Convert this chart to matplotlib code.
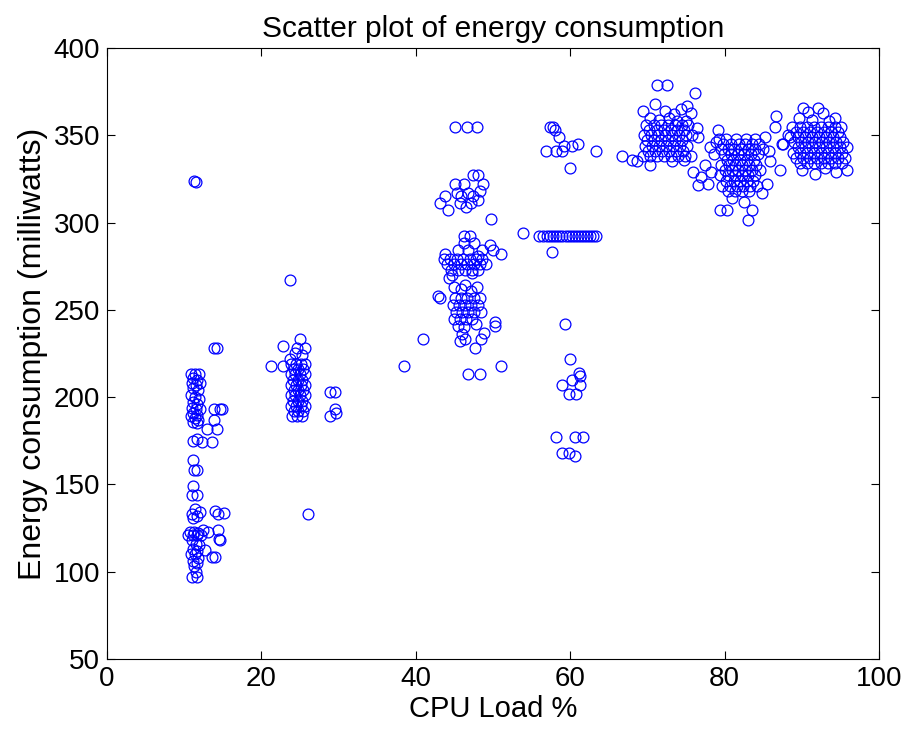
import matplotlib
matplotlib.use("Agg")
import matplotlib.pyplot as plt

# (cpu load %, energy mW), one list per group of runs
load_10 = [(11.3, 324), (11.5, 323.5),
           (10.9, 213), (11.4, 213), (11.9, 213), (11.2, 211), (11.7, 210), (11.0, 208), (11.5, 207),
           (12.0, 208), (11.2, 205), (11.8, 204), (10.9, 201), (11.4, 200), (11.9, 199), (11.1, 197),
           (11.6, 196), (11.0, 194), (11.5, 193), (12.0, 193), (11.2, 191), (11.7, 190), (10.9, 189),
           (11.4, 188), (11.8, 187), (11.1, 186), (11.6, 185), (11.2, 175), (11.7, 176), (11.2, 164),
           (11.3, 158), (11.6, 158), (11.2, 149), (11.0, 144), (11.6, 144), (11.4, 136), (11.0, 133),
           (11.6, 132), (12.1, 134), (11.2, 131), (10.8, 123), (11.3, 123), (11.8, 122), (10.5, 121),
           (11.1, 121), (11.6, 121), (12.2, 121), (11.0, 118), (11.5, 116), (11.9, 115), (11.2, 113),
           (11.7, 112), (10.9, 110), (11.4, 110), (11.8, 108), (11.1, 106), (11.6, 105), (11.3, 103),
           (11.5, 100), (11.0, 97), (11.6, 97),
           (12.3, 174.5), (13.6, 174.5), (13.9, 228), (14.3, 228), (13.8, 193), (14.6, 193), (14.9, 193),
           (13.8, 187), (12.9, 182), (14.2, 182), (12.4, 124), (13.1, 123), (14.0, 134.5), (14.4, 133),
           (15.1, 133.5), (14.4, 124), (14.5, 119), (14.7, 118), (13.6, 108.6), (14.0, 108.6), (12.7, 112.4)]

load_25 = [(23.7, 267), (25.0, 233), (22.8, 229), (24.6, 228), (25.6, 228), (23.7, 222), (21.3, 218),
           (22.8, 218), (24.3, 225), (25.2, 224),
           (23.9, 219), (24.5, 219), (25.1, 219), (25.7, 219), (24.2, 216), (24.8, 216), (25.4, 216),
           (23.8, 213), (24.4, 213), (25.0, 213), (25.6, 213), (24.1, 210), (24.7, 210), (25.3, 210),
           (23.9, 207), (24.5, 207), (25.1, 207), (25.7, 207), (24.2, 204), (24.8, 204), (25.4, 204),
           (23.8, 201), (24.4, 201), (25.0, 201), (25.6, 201), (24.1, 198), (24.7, 198), (25.3, 198),
           (23.9, 195), (24.5, 195), (25.1, 195), (25.7, 195), (24.2, 192), (24.8, 192), (25.4, 192),
           (24.0, 189), (24.6, 189), (25.2, 189),
           (28.9, 203), (29.5, 203), (29.5, 193), (29.7, 191), (28.9, 189), (26.0, 133)]

load_45 = [(45.1, 355), (46.6, 355), (47.9, 355),
           (47.4, 327), (48.1, 327), (45.1, 322), (46.2, 322), (48.7, 322), (43.8, 315), (45.3, 317),
           (46.8, 317), (48.3, 318), (43.1, 311), (44.2, 307), (45.7, 311), (47.2, 311), (45.9, 315),
           (47.4, 315), (46.5, 309), (48.0, 313), (49.8, 302),
           (46.2, 292), (47.0, 292), (46.2, 288), (47.6, 288), (49.6, 287), (51.1, 282), (43.8, 282),
           (45.5, 284), (46.8, 284), (48.6, 284), (50.0, 284),
           (43.6, 279), (44.4, 279), (45.3, 279), (46.1, 279), (47.0, 279), (47.8, 279), (48.6, 279),
           (44.0, 276), (44.9, 276), (45.8, 276), (46.6, 276), (47.5, 276), (48.3, 276), (49.1, 276),
           (44.6, 273), (45.5, 273), (46.4, 273), (47.3, 273), (48.1, 273),
           (44.7, 270), (44.3, 268), (48.0, 281), (47.3, 271),
           (44.9, 263), (42.9, 258), (46.4, 264), (47.9, 263), (45.9, 262), (47.2, 261),
           (45.1, 257), (45.9, 257), (46.7, 257), (47.5, 257), (48.3, 257),
           (44.8, 253), (45.6, 253), (46.4, 253), (47.2, 253), (48.0, 253),
           (45.2, 249), (46.0, 249), (46.8, 249), (47.6, 249), (48.4, 249),
           (44.9, 245), (45.7, 245), (46.5, 245), (47.3, 245),
           (45.5, 241), (46.3, 240), (47.8, 242), (48.8, 237), (50.3, 243), (50.3, 241), (41.0, 233),
           (45.7, 232), (46.4, 233), (48.5, 233), (46.0, 236), (47.7, 228), (51.1, 218), (46.8, 213),
           (48.3, 213), (43.2, 257), (38.5, 218)]

load_60 = [(57.4, 355), (57.8, 355), (58.0, 353), (58.6, 349), (59.2, 344), (60.3, 344), (56.9, 341),
           (58.2, 341), (58.9, 341), (61.0, 345), (63.3, 341), (60.0, 331),
           (53.9, 294), (56.0, 292), (56.5, 292), (57.0, 292), (57.4, 292), (57.8, 292), (58.2, 292),
           (58.6, 292), (59.0, 292), (59.4, 292), (59.8, 292), (60.2, 292), (60.6, 292), (61.0, 292),
           (61.4, 292), (61.8, 292), (62.2, 292), (62.6, 292), (63.0, 292), (63.4, 292), (57.6, 283),
           (59.3, 242), (60.0, 222), (61.1, 214), (61.3, 212), (60.2, 210), (58.9, 207), (61.3, 207),
           (59.8, 202), (60.8, 202), (58.2, 177), (60.6, 177), (61.7, 177), (58.9, 168), (59.8, 168),
           (60.6, 166)]

load_72 = [(71.2, 379), (72.5, 379), (76.2, 374), (75.1, 367), (75.7, 363), (69.5, 364), (71.0, 368),
           (72.3, 364), (73.5, 362), (74.4, 365), (70.3, 360), (71.5, 359), (72.8, 360), (73.9, 358),
           (75.0, 358),
           (69.8, 356), (70.9, 356), (71.8, 356), (72.7, 356), (73.6, 356), (74.5, 356), (75.3, 356),
           (70.2, 353), (71.2, 353), (72.1, 353), (73.0, 353), (73.9, 353), (74.8, 353),
           (69.6, 350), (70.5, 350), (71.4, 350), (72.3, 350), (73.2, 350), (74.1, 350), (75.0, 350),
           (75.8, 350),
           (70.0, 347), (70.9, 347), (71.8, 347), (72.7, 347), (73.6, 347), (74.5, 347),
           (69.7, 344), (70.6, 344), (71.5, 344), (72.4, 344), (73.3, 344), (74.2, 344), (75.1, 344),
           (70.1, 341), (71.0, 341), (71.9, 341), (72.8, 341), (73.7, 341), (74.6, 341),
           (69.5, 338), (70.4, 338), (71.3, 338), (72.2, 338), (73.1, 338), (74.0, 338), (74.9, 338),
           (75.6, 338),
           (68.6, 335), (70.3, 333), (66.7, 338), (68.0, 336), (73.2, 335), (74.8, 336), (76.6, 349),
           (76.4, 354),
           (75.9, 329), (77.0, 326), (76.6, 321.5), (77.5, 333), (78.1, 343), (79.2, 353)]

load_82 = [(79.4, 307), (80.3, 307), (83.5, 307), (83.0, 301.4),
           (79.3, 348), (80.2, 348), (81.5, 348), (82.8, 348), (83.9, 348),
           (79.8, 345), (80.8, 345), (81.9, 345), (82.6, 345), (83.5, 345), (84.4, 345),
           (79.5, 342), (80.4, 342), (81.2, 342), (82.1, 342), (83.0, 342), (84.0, 342), (85.0, 342),
           (79.9, 339), (80.9, 339), (81.7, 339), (82.5, 339), (83.4, 339), (84.3, 339),
           (80.3, 336), (81.1, 336), (82.0, 336), (82.9, 336), (83.8, 336),
           (79.6, 333), (80.6, 333), (81.4, 333), (82.3, 333), (83.2, 333), (84.1, 333),
           (80.0, 330), (81.0, 330), (81.8, 330), (82.7, 330), (83.6, 330), (84.6, 330),
           (79.4, 327), (80.5, 327), (81.3, 327), (82.2, 327), (83.1, 327), (84.0, 327),
           (80.2, 324), (81.2, 324), (82.0, 324), (82.9, 324), (83.7, 324),
           (79.7, 321), (80.7, 321), (81.6, 321), (82.4, 321), (83.3, 321), (84.2, 321),
           (80.4, 318), (81.4, 318), (82.3, 318), (83.2, 318),
           (86.7, 361), (86.5, 355), (87.6, 345), (87.2, 330), (85.9, 335), (85.5, 322), (84.8, 317),
           (81.0, 314), (82.5, 312), (85.2, 349), (85.8, 341), (78.6, 339), (78.2, 329), (77.8, 322),
           (78.9, 346)]

load_92 = [(90.2, 365.5), (90.8, 363.5), (92.1, 365.5), (92.7, 363), (94.3, 360), (93.5, 358),
           (91.3, 359), (89.6, 360),
           (88.8, 355), (89.8, 355), (90.7, 355), (91.6, 355), (92.5, 355), (93.4, 355), (94.3, 355),
           (95.1, 355),
           (89.3, 352), (90.2, 352), (91.1, 352), (92.0, 352), (92.9, 352), (93.8, 352), (94.7, 352),
           (88.5, 349), (89.5, 349), (90.4, 349), (91.3, 349), (92.2, 349), (93.1, 349), (94.0, 349),
           (94.9, 349),
           (89.0, 346), (89.9, 346), (90.8, 346), (91.7, 346), (92.6, 346), (93.5, 346), (94.4, 346),
           (95.3, 346),
           (89.5, 343), (90.4, 343), (91.3, 343), (92.2, 343), (93.1, 343), (94.0, 343), (94.9, 343),
           (95.8, 343),
           (88.9, 340), (89.8, 340), (90.7, 340), (91.6, 340), (92.5, 340), (93.4, 340), (94.3, 340),
           (95.2, 340),
           (89.3, 337), (90.2, 337), (91.1, 337), (92.0, 337), (92.9, 337), (93.8, 337), (94.7, 337),
           (95.6, 337),
           (89.8, 334), (90.7, 334), (91.6, 334), (92.5, 334), (93.4, 334), (94.3, 334), (95.2, 334),
           (90.0, 330), (91.7, 328), (94.5, 329), (95.8, 330), (93.0, 331), (88.2, 350), (87.4, 345)]

groups = [load_10, load_25, load_45, load_60, load_72, load_82, load_92]
cpu = [p[0] for g in groups for p in g]
energy = [p[1] for g in groups for p in g]

plt.rcParams['font.family'] = ['Liberation Sans', 'DejaVu Sans']

fig = plt.figure(figsize=(9.05, 7.40), dpi=100)
ax = fig.add_axes([0.1182, 0.1095, 0.853, 0.8257])
ax.plot(cpu, energy, 'o', linestyle='none', markersize=7.8, markerfacecolor='none',
        markeredgecolor='#0000ff', markeredgewidth=0.9)

ax.set_xlim(0, 100)
ax.set_ylim(50, 400)
ax.set_xticks([0, 20, 40, 60, 80, 100])
ax.set_yticks([50, 100, 150, 200, 250, 300, 350, 400])
ax.tick_params(direction='in', length=6, width=0.8, top=True, right=True, labelsize=20, pad=5)
for s in ax.spines.values():
    s.set_linewidth(0.8)

ax.set_title('Scatter plot of energy consumption', fontsize=21.5, pad=8)
ax.set_xlabel('CPU Load %', fontsize=21, labelpad=2)
ax.set_ylabel('Energy consumption (milliwatts)', fontsize=23, labelpad=4)

fig.savefig('out.png', dpi=100)
